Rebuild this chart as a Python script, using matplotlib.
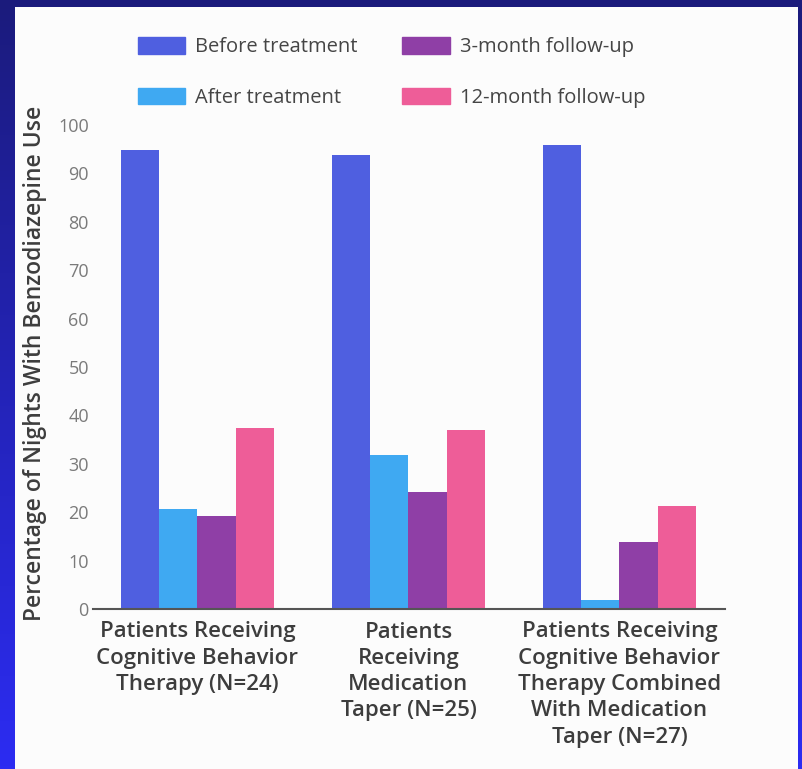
import matplotlib.pyplot as plt
import numpy as np
from matplotlib.colors import LinearSegmentedColormap
from matplotlib.patches import Rectangle, Patch

# chart data
groups = ["Patients Receiving\nCognitive Behavior\nTherapy (N=24)",
          "Patients\nReceiving\nMedication\nTaper (N=25)",
          "Patients Receiving\nCognitive Behavior\nTherapy Combined\nWith Medication\nTaper (N=27)"]
series = ["Before treatment", "After treatment", "3-month follow-up", "12-month follow-up"]
before = [94.8, 93.8, 95.9]
after = [20.7, 31.8, 1.9]
month3 = [19.2, 24.2, 13.8]
month12 = [37.4, 37.0, 21.3]
yticks = [0, 10, 20, 30, 40, 50, 60, 70, 80, 90, 100]

colors = ["#4f5fe0", "#3fa9f2", "#8f3fa6", "#ee5d98"]
font = ["Open Sans", "DejaVu Sans"]
plt.rcParams['font.family'] = font

fig = plt.figure(figsize=(8.02, 7.69), dpi=100)

# slide background: dark navy at top fading to bright blue at bottom
bg = fig.add_axes([0, 0, 1, 1])
grad = np.linspace(0, 1, 256).reshape(-1, 1)
cmap = LinearSegmentedColormap.from_list("slide", ["#1b1b7c", "#2c2cf2"])
bg.imshow(grad, aspect="auto", cmap=cmap, extent=[0, 1, 0, 1], origin="upper")
bg.add_patch(Rectangle((15 / 802, 0), (798 - 15) / 802, (769 - 7) / 769,
                       facecolor="#fcfcfc", edgecolor="none"))
bg.set_xlim(0, 1)
bg.set_ylim(0, 1)
bg.axis("off")

ax = fig.add_axes([93 / 802, 1 - 609 / 769, (725 - 93) / 802, (609 - 125) / 769])
ax.patch.set_alpha(0)

x = np.arange(len(groups))
width = 0.182
values = [before, after, month3, month12]
for i, vals in enumerate(values):
    ax.bar(x + (i - 1.5) * width, vals, width, color=colors[i], label=series[i])

ax.set_xlim(-0.495, 2.5)
ax.set_ylim(0, 100)
ax.set_yticks(yticks)
ax.tick_params(axis="y", length=0, labelsize=13, labelcolor="#7a7a7a", pad=3)
ax.tick_params(axis="x", length=0, pad=9)
ax.set_xticks(x)
ax.set_xticklabels(groups, fontsize=16, color="#3d3d3d", fontweight="semibold",
                   linespacing=1.33, va="top")
for s in ["top", "right", "left"]:
    ax.spines[s].set_visible(False)
ax.spines["bottom"].set_color("#555555")
ax.spines["bottom"].set_linewidth(1.5)

fig.text(35 / 802, 1 - 363 / 769, "Percentage of Nights With Benzodiazepine Use",
         rotation=90, ha="center", va="center", fontsize=16.5, color="#3d3d3d",
         fontweight="semibold")

handles = [Patch(color=c) for c in colors]
fig.legend(handles, series, loc="upper left", bbox_to_anchor=(138 / 802, 1 - 37 / 769),
           ncol=2, frameon=False, fontsize=14.5, labelcolor="#454545", borderpad=0,
           handlelength=2.35, handleheight=0.9, handletextpad=0.5,
           labelspacing=1.5, columnspacing=2.2, borderaxespad=0)

fig.savefig("out.png", dpi=100)
